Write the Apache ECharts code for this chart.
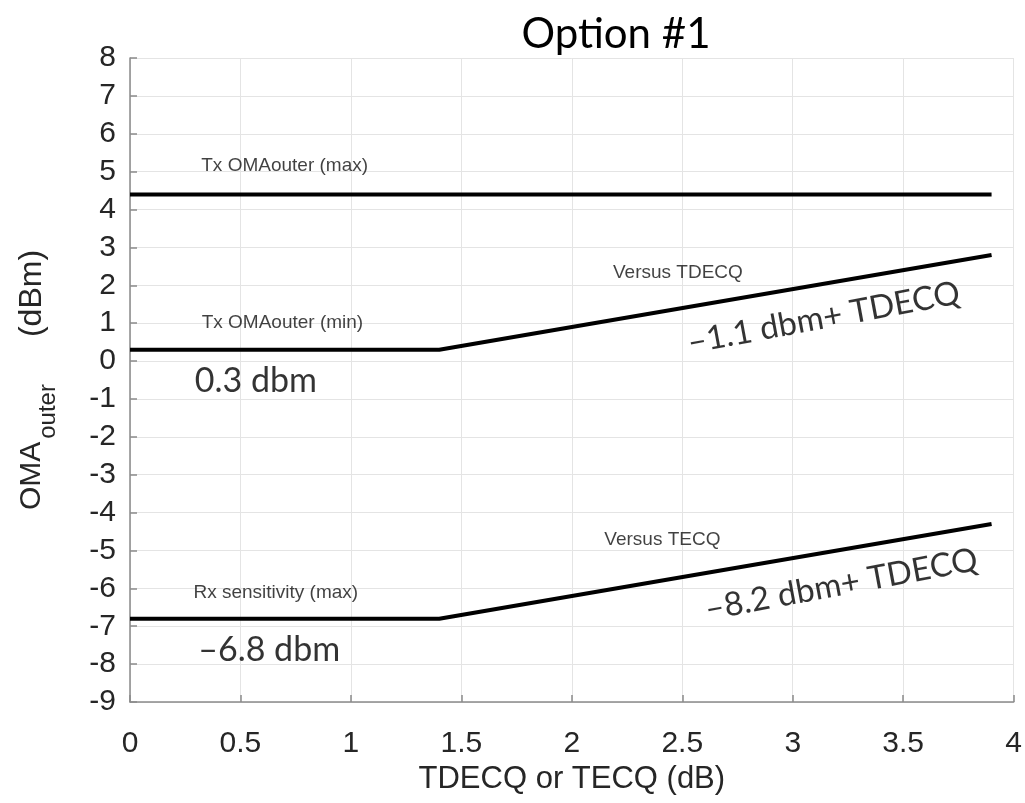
<!DOCTYPE html>
<html>
<head>
<meta charset="utf-8">
<script src="https://cdn.jsdelivr.net/npm/echarts@6/dist/echarts.min.js"></script>
<style>
  html, body { margin: 0; padding: 0; background: #fff; }
  #chart { width: 1025px; height: 803px; }
</style>
</head>
<body>
<div id="chart"></div>
<script>
// Break points along the TDECQ / TECQ axis (dB)
const tdecq = [0, 1.4, 3.9];
// OMAouter limits (dBm) at those points
const txMax = [4.4, 4.4, 4.4];
const txMin = [0.3, 0.3, 2.8];
const rxSens = [-6.8, -6.8, -4.3];

// Curve captions: [x, y, text]
const captions = [
  [0.70, 5.15, 'Tx OMAouter (max)'],
  [0.69, 1.0, 'Tx OMAouter (min)'],
  [2.48, 2.33, 'Versus TDECQ'],
  [2.41, -4.72, 'Versus TECQ'],
  [0.66, -6.12, 'Rx sensitivity (max)']
];
// Formula notes: [x, y, text]
const notes = [
  [0.57, -0.52, '0.3 dbm'],
  [0.63, -7.62, '\u20136.8 dbm']
];
const slopedNotes = [
  [3.14, 1.14, '\u20131.1 dbm+ TDECQ'],
  [3.22, -5.9, '\u20138.2 dbm+ TDECQ']
];

const pairs = (xs, ys) => xs.map((x, i) => [x, ys[i]]);
const textPoints = arr => arr.map(d => ({ value: [d[0], d[1]], name: d[2] }));

const chart = echarts.init(document.getElementById('chart'));
const sans = 'Liberation Sans, Arial, sans-serif';
const tickFont = { fontFamily: sans, fontSize: 30, color: '#262626' };
const lineStyle = { color: '#000', width: 4 };
const axisGrey = { color: '#8a8a8a', width: 1.5 };

chart.setOption({
  animation: false,
  backgroundColor: '#fff',
  title: {
    text: 'Option #1',
    left: 611,
    top: 8,
    textAlign: 'center',
    textStyle: { fontFamily: 'Lato, sans-serif', fontSize: 42, fontWeight: 'normal', color: '#000' }
  },
  grid: { left: 130, right: 9, top: 58, bottom: 101 },
  xAxis: {
    type: 'value',
    min: 0, max: 4, interval: 0.5,
    name: 'TDECQ or TECQ (dB)',
    nameLocation: 'middle',
    nameGap: 62,
    nameTextStyle: { fontFamily: sans, fontSize: 31, color: '#262626' },
    axisLine: { show: true, onZero: false, lineStyle: axisGrey },
    axisTick: { show: true, inside: true, length: 7, lineStyle: axisGrey },
    axisLabel: Object.assign({ margin: 27 }, tickFont),
    splitLine: { show: true, lineStyle: { color: '#e4e4e4', width: 1 } }
  },
  yAxis: {
    type: 'value',
    min: -9, max: 8, interval: 1,
    name: '{m|OMA}{s|outer}{d|(dBm)}',
    nameLocation: 'middle',
    nameRotate: 90,
    nameGap: 70,
    nameTextStyle: {
      rich: {
        m: { fontFamily: sans, fontSize: 30, color: '#262626', lineHeight: 56, verticalAlign: 'middle' },
        s: { fontFamily: sans, fontSize: 24, color: '#262626', lineHeight: 24, verticalAlign: 'bottom', padding: [0, 0, 0, 3] },
        d: { fontFamily: sans, fontSize: 32, color: '#262626', lineHeight: 56, verticalAlign: 'middle', padding: [0, 0, 0, 47] }
      }
    },
    axisLine: { show: true, onZero: false, lineStyle: axisGrey },
    axisTick: { show: true, inside: true, length: 7, lineStyle: axisGrey },
    axisLabel: Object.assign({ margin: 14 }, tickFont),
    splitLine: { show: true, lineStyle: { color: '#e4e4e4', width: 1 } }
  },
  series: [
    { name: 'Tx OMAouter (max)', type: 'line', data: pairs(tdecq, txMax), showSymbol: false, lineStyle, z: 3 },
    { name: 'Tx OMAouter (min)', type: 'line', data: pairs(tdecq, txMin), showSymbol: false, lineStyle, z: 3 },
    { name: 'Rx sensitivity (max)', type: 'line', data: pairs(tdecq, rxSens), showSymbol: false, lineStyle, z: 3 },
    {
      type: 'scatter', symbolSize: 0, silent: true, z: 4,
      data: textPoints(captions),
      label: { show: true, position: 'inside', formatter: p => p.name,
        fontFamily: sans, fontSize: 19, color: '#111' }
    },
    {
      type: 'scatter', symbolSize: 0, silent: true, z: 4,
      data: textPoints(notes),
      label: { show: true, position: 'inside', formatter: p => p.name,
        fontFamily: 'Lato, sans-serif', fontSize: 34, color: '#000' }
    },
    {
      type: 'scatter', symbolSize: 0, silent: true, z: 4,
      data: textPoints(slopedNotes),
      label: { show: true, position: 'inside', rotate: 10.5, formatter: p => p.name,
        fontFamily: 'Lato, sans-serif', fontSize: 33, color: '#000' }
    }
  ]
});
</script>
</body>
</html>
